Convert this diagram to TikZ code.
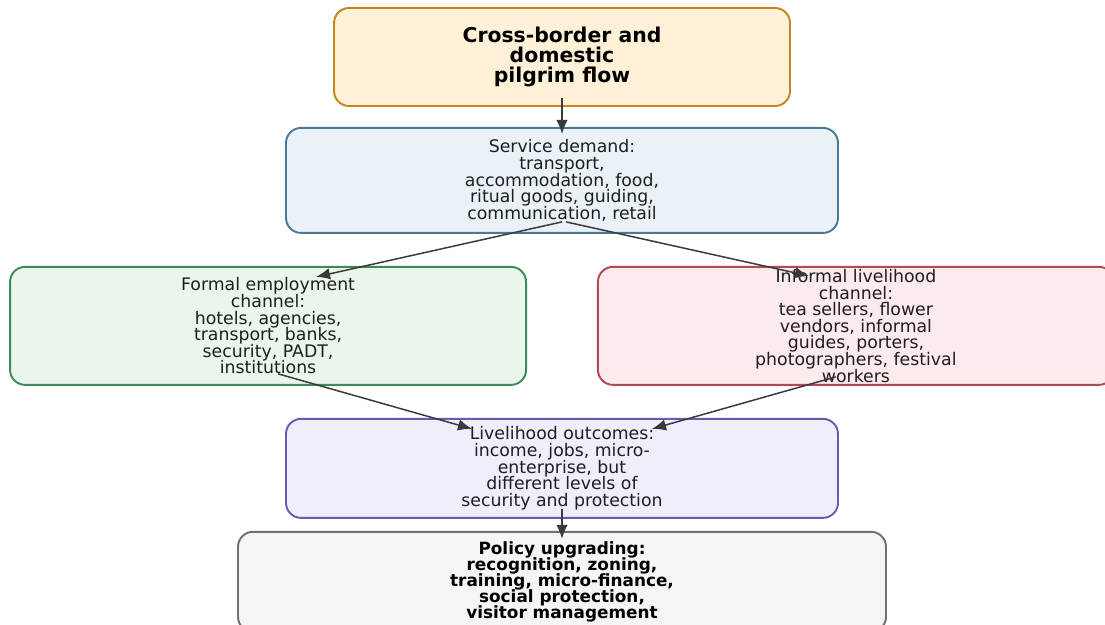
\documentclass[tikz,border=0pt]{standalone}
\usepackage{fontspec}
\setmainfont{DejaVu Sans}
\usetikzlibrary{positioning,arrows.meta}
\definecolor{flowfill}{HTML}{FFF1D8}
\definecolor{flowline}{HTML}{C5861E}
\definecolor{demandfill}{HTML}{EAF2F8}
\definecolor{demandline}{HTML}{4A7A9A}
\definecolor{formalfill}{HTML}{EAF6EC}
\definecolor{formalline}{HTML}{3D8B5A}
\definecolor{informalfill}{HTML}{FCEBEC}
\definecolor{informalline}{HTML}{B04A58}
\definecolor{outcomefill}{HTML}{F0EEFA}
\definecolor{outcomeline}{HTML}{7058B0}
\definecolor{policyfill}{HTML}{F5F5F5}
\definecolor{policyline}{HTML}{707070}
\definecolor{arrowgray}{HTML}{3A3A3A}
\definecolor{textgray}{HTML}{1E1E1E}
\newcommand{\stagefont}{\fontsize{9.85}{9.45}\selectfont\lineskiplimit=-4pt\relax}
\newcommand{\policyfont}{\fontsize{9.6}{9.2}\selectfont\bfseries\lineskiplimit=-4pt\relax}
\newcommand{\flowfont}{\fontsize{11.6}{11.2}\selectfont\bfseries\lineskiplimit=-4pt\relax}
\tikzstyle{arrow} = [line width=0.85pt, draw=arrowgray, -{Latex[length=2.8mm,width=2.3mm]}]

\begin{document}
\begin{tikzpicture}[
			stage/.style={
					rectangle,
					rounded corners=0.3cm,
					line width=1.1pt,
					align=center,
					inner xsep=4pt,
					inner ysep=0pt,
					text=textgray,
					font=\stagefont,
				},
			boldstage/.style={
					stage,
					text=black,
					font=\policyfont,
				}
		]
		\useasboundingbox (0,0) rectangle (22.1,-12.5);
		\clip (0,0) rectangle (22.1,-12.5);

		% Pilgrim flow
		\node[stage, draw=flowline, fill=flowfill, minimum width=9.12cm, minimum height=1.96cm,
			text=black, font=\flowfont] (flow) at (11.24,-1.14) {
			Cross-border and\\
			domestic\\
			pilgrim flow
		};

		% Service demand
		\node[stage, draw=demandline, fill=demandfill, minimum width=11.04cm, minimum height=2.1cm,
			below=0.4cm of flow] (demand) {
			Service demand:\\
			transport,\\
			accommodation, food,\\
			ritual goods, guiding,\\
			communication, retail
		};

		% Formal channel
		\node[stage, draw=formalline, fill=formalfill, minimum width=10.32cm, minimum height=2.36cm,
			below left=0.64cm and -4.84cm of demand] (formal) {
			Formal employment\\
			channel:\\
			hotels, agencies,\\
			transport, banks,\\
			security, PADT,\\
			institutions
		};

		% Informal channel
		\node[stage, draw=informalline, fill=informalfill, minimum width=10.32cm, minimum height=2.36cm,
			below right=0.64cm and -4.84cm of demand] (informal) {
			Informal livelihood\\
			channel:\\
			tea sellers, flower\\
			vendors, informal\\
			guides, porters,\\
			photographers, festival\\
			workers
		};

		% Livelihood outcomes
		\node[stage, draw=outcomeline, fill=outcomefill, minimum width=11.04cm, minimum height=1.98cm,
			below=3.68cm of demand] (outcome) {
			Livelihood outcomes:\\
			income, jobs, micro-\\
			enterprise, but\\
			different levels of\\
			security and protection
		};

		% Policy upgrading
		\node[boldstage, draw=policyline, fill=policyfill, minimum width=12.96cm, minimum height=2.0cm,
			below=0.24cm of outcome] (policy) {
			Policy upgrading:\\
			recognition, zoning,\\
			training, micro-finance,\\
			social protection,\\
			visitor management
		};

		% Connections
		\draw[arrow] ([yshift=0.18cm]flow.south) -- ([yshift=-0.14cm]demand.north);
		\draw[arrow] ([yshift=0.24cm]demand.south) -- ([xshift=0.96cm,yshift=-0.22cm]formal.north);
		\draw[arrow] ([xshift=0.08cm,yshift=0.24cm]demand.south) -- ([xshift=-0.94cm,yshift=-0.2cm]informal.north);
		\draw[arrow] ([xshift=0.2cm,yshift=0.24cm]formal.south) -- ([xshift=-1.8cm,yshift=-0.22cm]outcome.north);
		\draw[arrow] ([xshift=-0.4cm,yshift=0.18cm]informal.south) -- ([xshift=1.8cm,yshift=-0.22cm]outcome.north);
		\draw[arrow] ([yshift=0.2cm]outcome.south) -- ([yshift=-0.16cm]policy.north);
	\end{tikzpicture}
\end{document}
